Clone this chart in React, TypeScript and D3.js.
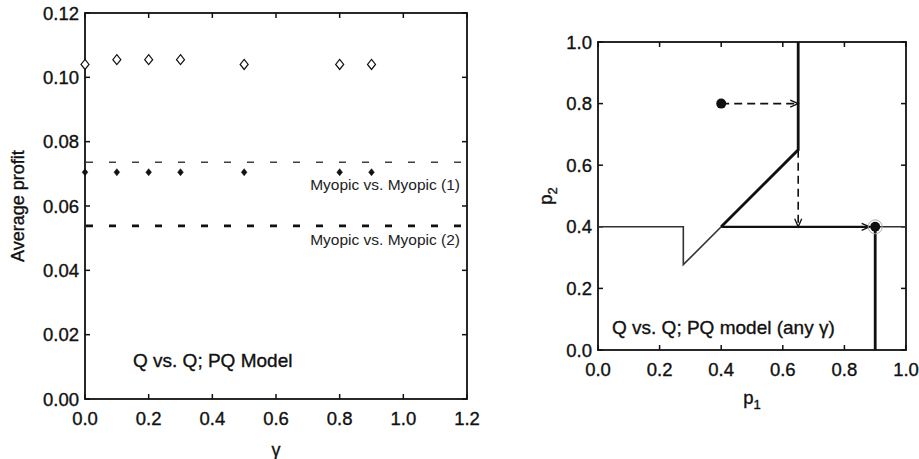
import React from 'react';
import * as d3 from 'd3';

// left panel: average profit vs gamma
const gammas = [0, 0.1, 0.2, 0.3, 0.5, 0.8, 0.9];
const qProfitOpen = [0.104, 0.1055, 0.1055, 0.1055, 0.104, 0.104, 0.104];
const qProfitFilled = [0.0705, 0.0705, 0.0705, 0.0705, 0.0705, 0.0705, 0.0705];
const myopicLevels = [0.0736, 0.0538];
const myopicLabels = ['Myopic vs. Myopic (1)', 'Myopic vs. Myopic (2)'];
const leftXTicks = [0, 0.2, 0.4, 0.6, 0.8, 1.0, 1.2];
const leftYTicks = [0, 0.02, 0.04, 0.06, 0.08, 0.1, 0.12];

// right panel: best response paths in (p1, p2)
const thinCurve: [number, number][] = [[0, 0.4], [0.277, 0.4], [0.277, 0.277], [0.4, 0.4], [1, 0.4]];
const thickCurve: [number, number][] = [[0.65, 1], [0.65, 0.65], [0.4, 0.4]];
const eqDrop: [number, number][] = [[0.9, 0.4], [0.9, 0]];
const startPoint: [number, number] = [0.4, 0.8];
const eqPoint: [number, number] = [0.9, 0.4];
const dashedArrows: [number, number][][] = [
  [[0.4, 0.8], [0.65, 0.8]],
  [[0.65, 0.65], [0.65, 0.4]],
];
const solidArrow: [number, number][] = [[0.4, 0.4], [0.882, 0.4]];
const rightTicks = [0, 0.2, 0.4, 0.6, 0.8, 1.0];

const font = '"Liberation Sans", Arial, Helvetica, sans-serif';

const App = () => {
  // left scales
  const lx = d3.scaleLinear().domain([0, 1.2]).range([85, 467]);
  const ly = d3.scaleLinear().domain([0, 0.12]).range([399, 13]);
  // right scales
  const rx = d3.scaleLinear().domain([0, 1]).range([598, 906]);
  const ry = d3.scaleLinear().domain([0, 1]).range([350, 42]);

  const rLine = d3.line<[number, number]>().x(d => rx(d[0])).y(d => ry(d[1]));
  const diamond = (cx: number, cy: number, w: number, h: number) =>
    `M${cx},${cy - h}L${cx + w},${cy}L${cx},${cy + h}L${cx - w},${cy}Z`;
  const tick = 5;
  const labelDy = [28, 19];
  // slight outline so the text reads as heavy as the scanned Helvetica
  const ink = { fill: '#111', stroke: '#111', strokeWidth: 0.35 };

  return (
    <svg width={919} height={459} style={{ position: 'absolute', left: 0, top: 0, background: '#fff' }} fontFamily={font}>
      <defs>
        <marker id="arr" markerUnits="userSpaceOnUse" markerWidth={12} markerHeight={10} refX={9} refY={5} orient="auto">
          <path d="M1,1.5 L9,5 L1,8.5" fill="none" stroke="#111" strokeWidth={1.3} />
        </marker>
      </defs>

      {/* ---------- left panel ---------- */}
      <rect x={lx(0)} y={ly(0.12)} width={lx(1.2) - lx(0)} height={ly(0) - ly(0.12)} fill="none" stroke="#111" strokeWidth={1.8} />
      {leftXTicks.map(t => (
        <g key={'lx' + t}>
          <line x1={lx(t)} x2={lx(t)} y1={ly(0)} y2={ly(0) - tick} stroke="#111" strokeWidth={1.5} />
          <line x1={lx(t)} x2={lx(t)} y1={ly(0.12)} y2={ly(0.12) + tick} stroke="#111" strokeWidth={1.5} />
          <text x={lx(t)} y={ly(0) + 26} fontSize={18.5} textAnchor="middle" {...ink}>{t.toFixed(1)}</text>
        </g>
      ))}
      {leftYTicks.map(t => (
        <g key={'ly' + t}>
          <line x1={lx(0)} x2={lx(0) + tick} y1={ly(t)} y2={ly(t)} stroke="#111" strokeWidth={1.5} />
          <line x1={lx(1.2)} x2={lx(1.2) - tick} y1={ly(t)} y2={ly(t)} stroke="#111" strokeWidth={1.5} />
          <text x={lx(0) - 6} y={ly(t) + 6.5} fontSize={18.5} textAnchor="end" {...ink}>{t.toFixed(2)}</text>
        </g>
      ))}
      <text x={lx(0.6)} y={456} fontSize={18} textAnchor="middle" {...ink}>γ</text>
      <text transform={`translate(24,${ly(0.06)}) rotate(-90)`} fontSize={18} textAnchor="middle" {...ink}>Average profit</text>

      {myopicLevels.map((v, i) => (
        <g key={'my' + i}>
          <line x1={lx(0)} x2={lx(1.2)} y1={ly(v)} y2={ly(v)} stroke="#111"
            strokeWidth={i === 0 ? 1.6 : 2.8} strokeDasharray="7 16" strokeDashoffset={-1} opacity={i === 0 ? 0.8 : 1} />
          <text x={lx(1.2) - 7} y={ly(v) + labelDy[i]} fontSize={15.5} textAnchor="end" fill="#222">{myopicLabels[i]}</text>
        </g>
      ))}

      {gammas.map((g, i) => (
        <path key={'o' + i} d={diamond(lx(g), ly(qProfitOpen[i]), 4, 5)} fill="#fff" stroke="#111" strokeWidth={1.2} />
      ))}
      {gammas.map((g, i) => (
        <path key={'f' + i} d={diamond(lx(g), ly(qProfitFilled[i]), 2.8, 3.5)} fill="#111" stroke="#111" strokeWidth={0.6} />
      ))}

      <text x={133} y={367} fontSize={19} {...ink}>Q vs. Q; PQ Model</text>

      {/* ---------- right panel ---------- */}
      <rect x={rx(0)} y={ry(1)} width={rx(1) - rx(0)} height={ry(0) - ry(1)} fill="none" stroke="#111" strokeWidth={1.8} />
      {rightTicks.map(t => (
        <g key={'r' + t}>
          <line x1={rx(t)} x2={rx(t)} y1={ry(0)} y2={ry(0) - tick} stroke="#111" strokeWidth={1.5} />
          <line x1={rx(t)} x2={rx(t)} y1={ry(1)} y2={ry(1) + tick} stroke="#111" strokeWidth={1.5} />
          <line x1={rx(0)} x2={rx(0) + tick} y1={ry(t)} y2={ry(t)} stroke="#111" strokeWidth={1.5} />
          <line x1={rx(1)} x2={rx(1) - tick} y1={ry(t)} y2={ry(t)} stroke="#111" strokeWidth={1.5} />
          <text x={rx(t)} y={ry(0) + 26} fontSize={18.5} textAnchor="middle" {...ink}>{t.toFixed(1)}</text>
          <text x={rx(0) - 6} y={ry(t) + 6.5} fontSize={18.5} textAnchor="end" {...ink}>{t.toFixed(1)}</text>
        </g>
      ))}
      <text x={rx(0.5)} y={404} fontSize={18.5} textAnchor="middle" {...ink}>p<tspan fontSize={13} dy={5}>1</tspan></text>
      <text transform={`translate(552,${ry(0.5)}) rotate(-90)`} fontSize={18.5} textAnchor="middle" {...ink}>p<tspan fontSize={13} dy={5}>2</tspan></text>

      <path d={rLine(thinCurve) || ''} fill="none" stroke="#333" strokeWidth={1.6} />
      <path d={rLine(thickCurve) || ''} fill="none" stroke="#111" strokeWidth={2.8} />
      <path d={rLine(eqDrop) || ''} fill="none" stroke="#111" strokeWidth={2.8} />
      <path d={rLine(solidArrow) || ''} fill="none" stroke="#111" strokeWidth={2.2} markerEnd="url(#arr)" />
      {dashedArrows.map((a, i) => (
        <path key={'da' + i} d={rLine(a) || ''} fill="none" stroke="#111" strokeWidth={1.6} strokeDasharray="8 5" markerEnd="url(#arr)" />
      ))}
      <circle cx={rx(startPoint[0])} cy={ry(startPoint[1])} r={5} fill="#111" />
      <circle cx={rx(eqPoint[0])} cy={ry(eqPoint[1])} r={7} fill="none" stroke="#aaa" strokeWidth={1} />
      <circle cx={rx(eqPoint[0])} cy={ry(eqPoint[1])} r={5} fill="#111" />

      <text x={612} y={334} fontSize={19} {...ink}>Q vs. Q; PQ model (any γ)</text>
    </svg>
  );
};

export default App;
